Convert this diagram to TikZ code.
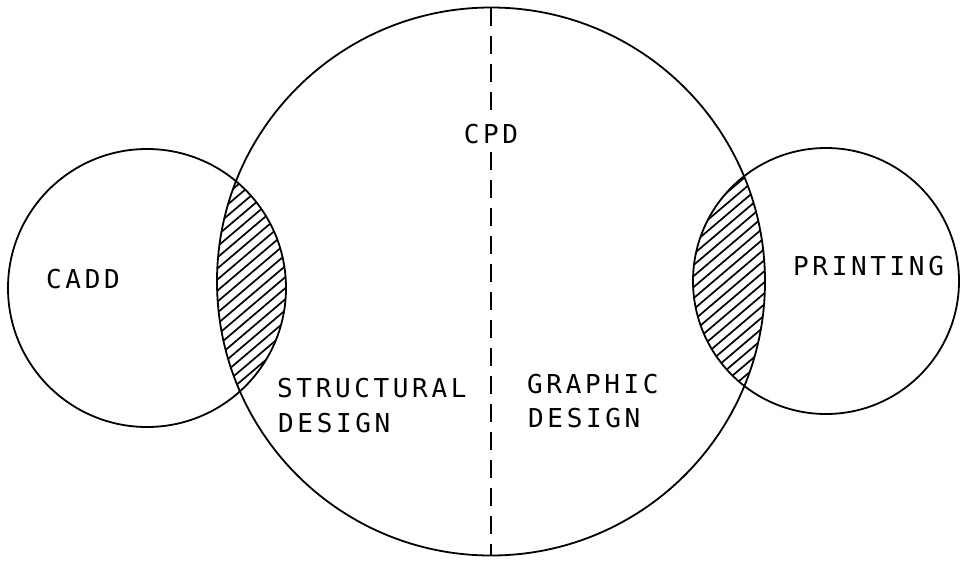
\documentclass[tikz,border=0pt]{standalone}
\usepackage{fontspec}
\newfontfamily\plotfont[LetterSpace=14]{DejaVu Sans Mono}
\tikzset{
  ring/.style={draw=black, line width=1.8pt},
  hatchline/.style={draw=black, line width=1.7pt},
  axisline/.style={draw=black, line width=1.4pt, dash pattern=on 18pt off 10pt},
  lbl/.style={font=\plotfont\fontsize{26}{26}\selectfont, inner sep=0pt, text=black},
}
\begin{document}
\begin{tikzpicture}[x=1pt,y=-1pt]
\useasboundingbox (0,0) rectangle (961,560);
% centres
\coordinate (cbig) at (491,281.5);
\coordinate (cleft) at (147,288);
\coordinate (cright) at (826,281);
% hatched lens, left
\begin{scope}
  \clip (cbig) circle[radius=274pt];
  \clip (cleft) circle[radius=139pt];
  \foreach \k in {-30,...,30}
    \draw[hatchline] (250+\k*13-200,285+200*0.85) -- (250+\k*13+200,285-200*0.85);
\end{scope}
% hatched lens, right
\begin{scope}
  \clip (cbig) circle[radius=274pt];
  \clip (cright) circle[radius=133pt];
  \foreach \k in {-30,...,30}
    \draw[hatchline] (728+\k*13-200,280+200*0.85) -- (728+\k*13+200,280-200*0.85);
\end{scope}
% circles
\draw[ring] (cbig) circle[radius=274pt];
\draw[ring] (cleft) circle[radius=139pt];
\draw[ring] (cright) circle[radius=133pt];
% labels
\node[lbl, anchor=base] (cpd) at (491,143) {CPD};
\node[lbl, anchor=base west] (cadd) at (46,288) {CADD};
\node[lbl, anchor=base west] (print) at (793,275) {PRINTING};
\node[lbl, anchor=base west] (struct) at (277,397) {STRUCTURAL};
\node[lbl, anchor=base west] (sdes) at (278,432) {DESIGN};
\node[lbl, anchor=base west] (graph) at (527,393) {GRAPHIC};
\node[lbl, anchor=base west] (gdes) at (528,427) {DESIGN};
% dividing line
\coordinate (top) at (491,7.5);
\coordinate (bot) at (491,555.5);
\coordinate (cpdtop) at (491,114);
\coordinate (cpdbot) at (491,152);
\draw[axisline] (top) -- (cpdtop);
\draw[axisline] (cpdbot) -- (bot);
\end{tikzpicture}
\end{document}
